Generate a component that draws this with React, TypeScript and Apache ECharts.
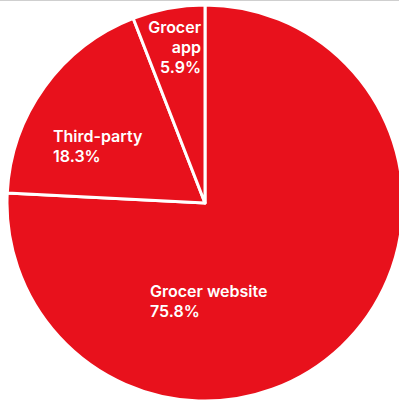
import React, { useEffect, useRef } from "react";
import * as echarts from "echarts";

const categories = ["Grocer website", "Third-party", "Grocer app"];
const displayLabels = ["Grocer website", "Third-party", "Grocer\napp"];
const shares = [75.8, 18.3, 5.9];

const labelPos: { x: number; y: number; align: "left" | "right" }[] = [
  { x: 150, y: 281, align: "left" },
  { x: 53, y: 126, align: "left" },
  { x: 201, y: 17, align: "right" },
];

export default function App() {
  const ref = useRef<HTMLDivElement>(null);
  useEffect(() => {
    if (!ref.current) return;
    const chart = echarts.init(ref.current, undefined, { renderer: "svg" });
    chart.setOption({
      animation: false,
      series: [
        {
          type: "pie",
          center: [205, 203],
          radius: 198,
          startAngle: 90,
          clockwise: true,
          avoidLabelOverlap: false,
          itemStyle: { color: "#e8111c", borderColor: "#ffffff", borderWidth: 3 },
          label: {
            show: true,
            position: "inside",
            color: "#ffffff",
            fontFamily: "Inter",
            fontWeight: 600,
            fontSize: 16,
            lineHeight: 20,
            formatter: (p: any) => `${displayLabels[p.dataIndex]}\n${p.value}%`,
          },
          labelLine: { show: false },
          labelLayout: (p: any) => {
            const lp = labelPos[p.dataIndex];
            return { x: lp.x, y: lp.y, align: lp.align, verticalAlign: "top" };
          },
          emphasis: { disabled: true },
          data: categories.map((c, i) => ({ name: c, value: shares[i] })),
        },
      ],
    });
    return () => chart.dispose();
  }, []);
  return (
    <div style={{ position: "fixed", left: 0, top: 0, width: 399, height: 401, background: "#fff" }}>
      <div ref={ref} style={{ position: "absolute", left: 0, top: 0, width: 399, height: 401 }} />
      <div style={{ position: "absolute", left: 0, top: 0, width: 399, height: 1, background: "#cfcfcf" }} />
    </div>
  );
}
